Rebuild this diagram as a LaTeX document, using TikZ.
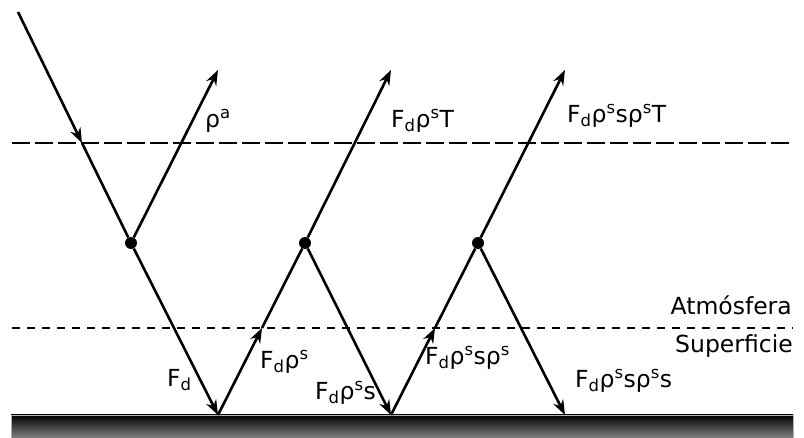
\documentclass[tikz,border=0pt]{standalone}
\usepackage{fontspec}
\setmainfont{DejaVu Sans}
\usetikzlibrary{arrows.meta}

\begin{document}
\begin{tikzpicture}[x=1pt,y=-1pt,
  ray/.style={line width=2.6pt},
  tip/.style={-{Stealth[length=15pt,width=11pt]}},
  dot/.style={circle,fill,inner sep=0pt,minimum size=12pt},
  lbl/.style={anchor=base west,inner sep=0pt,font=\fontsize{23.5}{28}\selectfont}]
\useasboundingbox (0,0) rectangle (804,438);
% surface and layer borders
\path[draw=gray!60,line width=0.8pt,top color=black,middle color=black!95,bottom color=black!45] (11,415) rectangle (793,440);
\draw[ray,dash pattern=on 18pt off 5pt] (12,143) -- (793,143);
\draw[ray,dash pattern=on 8pt off 7pt] (12,328) -- (793,328);
% scattering points, ground hits, ray ends
\foreach \i/\x in {1/131,2/305,3/478} \node[dot] (d\i) at (\x,243) {};
\foreach \i/\x in {1/218,2/391,3/565} {\coordinate (g\i) at (\x,415); \coordinate (t\i) at (\x,70);}
\coordinate (s) at (18,12);
\coordinate (c0) at (82,143); \coordinate (c1) at (262,328); \coordinate (c2) at (435,328);
% rays
\draw[ray,tip] (s) -- (c0); \draw[ray] (c0) -- (d1);
\draw[ray,tip] (d1) -- (t1);
\draw[ray,tip] (d1) -- (g1);
\draw[ray,tip] (g1) -- (c1); \draw[ray] (c1) -- (d2);
\draw[ray,tip] (d2) -- (t2);
\draw[ray,tip] (d2) -- (g2);
\draw[ray,tip] (g2) -- (c2); \draw[ray] (c2) -- (d3);
\draw[ray,tip] (d3) -- (t3);
\draw[ray,tip] (d3) -- (g3);
% labels
\node[lbl] (la) at (205,128) {ρ\textsuperscript{a}};
\node[lbl] (lt1) at (391,128) {F\textsubscript{d}ρ\textsuperscript{s}T};
\node[lbl] (lt2) at (567,123) {F\textsubscript{d}ρ\textsuperscript{s}sρ\textsuperscript{s}T};
\node[lbl] (lf) at (167,387) {F\textsubscript{d}};
\node[lbl] (lu1) at (260,369) {F\textsubscript{d}ρ\textsuperscript{s}};
\node[lbl] (ld1) at (315,400) {F\textsubscript{d}ρ\textsuperscript{s}s};
\node[lbl] (lu2) at (425,365) {F\textsubscript{d}ρ\textsuperscript{s}sρ\textsuperscript{s}};
\node[lbl] (ld2) at (575,388) {F\textsubscript{d}ρ\textsuperscript{s}sρ\textsuperscript{s}s};
\node[lbl,anchor=base east] (latm) at (792,315) {Atmósfera};
\node[lbl,anchor=base east] (lsup) at (793,353) {Superficie};
\end{tikzpicture}
\end{document}
